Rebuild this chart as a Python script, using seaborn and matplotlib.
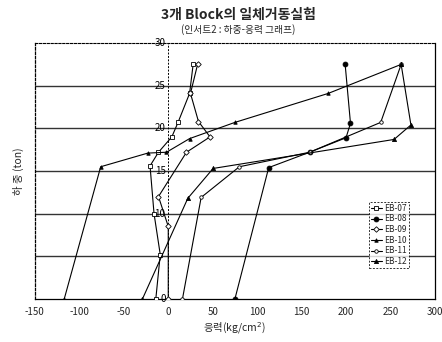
import pandas as pd
import matplotlib
matplotlib.use("Agg")
import matplotlib.pyplot as plt
import seaborn as sns

# -------------------------------
# Data (stress kg/cm2, load ton)
# -------------------------------
series_names = ["EB-07", "EB-08", "EB-09", "EB-10", "EB-11", "EB-12"]

eb07_x = [-14, -9, -16, -20.5, -11, 4, 11, 24, 28]
eb07_y = [0, 5.2, 10, 15.6, 17.2, 19.0, 20.7, 24.1, 27.5]

eb08_x = [75, 113, 159, 200, 205, 199]
eb08_y = [0, 15.4, 17.2, 18.9, 20.6, 27.5]

eb09_x = [0, 0, -11, 20.5, 47, 34, 25, 33]
eb09_y = [0, 8.5, 12, 17.2, 19.0, 20.8, 24.1, 27.5]

eb10_x = [-117, -76, -23, -2, 24, 75, 180, 262]
eb10_y = [0, 15.5, 17.1, 17.2, 18.8, 20.7, 24.1, 27.5]

eb11_x = [16, 37, 80, 159, 239, 262]
eb11_y = [0, 11.9, 15.5, 17.2, 20.7, 27.5]

eb12_x = [-29, 22, 50.5, 254, 273, 262]
eb12_y = [0, 11.8, 15.3, 18.7, 20.4, 27.5]

x_ticks = [-150, -100, -50, 0, 50, 100, 150, 200, 250, 300]
y_ticks = [0, 5, 10, 15, 20, 25, 30]
y_tick_labels = ["0", "", "10", "15", "20", "25", "30"]

all_x = [eb07_x, eb08_x, eb09_x, eb10_x, eb11_x, eb12_x]
all_y = [eb07_y, eb08_y, eb09_y, eb10_y, eb11_y, eb12_y]

# -------------------------------
# Theme
# -------------------------------
sns.set_theme(style="white")
plt.rcParams["font.family"] = ["Noto Sans CJK KR", "DejaVu Sans"]

fig = plt.figure(figsize=(4.42, 3.42), dpi=100)
ax = fig.add_axes([0.079, 0.126, 0.905, 0.748])

markers = {"EB-07": "s", "EB-08": "o", "EB-09": "D",
           "EB-10": "^", "EB-11": "o", "EB-12": "^"}
faces = {"EB-07": "white", "EB-08": "black", "EB-09": "white",
         "EB-10": "black", "EB-11": "white", "EB-12": "black"}
sizes = {"EB-07": 3, "EB-08": 3.5, "EB-09": 2.8,
         "EB-10": 2.5, "EB-11": 2.5, "EB-12": 3}

for name, xs, ys in zip(series_names, all_x, all_y):
    sub = pd.DataFrame({"Stress": xs, "Load": ys})
    sns.lineplot(data=sub, x="Stress", y="Load", sort=False, estimator=None,
                 ax=ax, color="black", lw=0.8, marker=markers[name],
                 markersize=sizes[name], markerfacecolor=faces[name],
                 markeredgecolor="black", markeredgewidth=0.6,
                 label=name, zorder=3)

# grid lines and zero line
for yv in y_ticks[1:-1]:
    ax.axhline(yv, color="#333333", lw=1.0, zorder=1)
ax.axvline(0, color="black", lw=0.7, ls=(0, (2, 1.5)), zorder=1)

ax.set_xlim(-150, 300)
ax.set_ylim(0, 30)
ax.set_xticks(x_ticks)
ax.set_xticklabels([str(v) for v in x_ticks], fontsize=7)
ax.set_yticks([])
ax.tick_params(axis="x", length=0, pad=6)

# y labels drawn along the zero line
for yv, lab in zip(y_ticks, y_tick_labels):
    if lab:
        ax.text(-3, yv, lab, fontsize=7, ha="right", va="center",
                color="black", zorder=4)

for side in ["left", "right", "bottom"]:
    ax.spines[side].set_color("black")
    ax.spines[side].set_linewidth(0.9)
ax.spines["top"].set_color("black")
ax.spines["top"].set_linewidth(0.8)
ax.spines["top"].set_linestyle((0, (2, 1.5)))
ax.spines["left"].set_linestyle((0, (2, 1.5)))

ax.set_xlabel("응력(kg/cm$^2$)", fontsize=7.5, labelpad=2)
ax.set_ylabel("하 중 (ton)", fontsize=7.5, labelpad=8)

fig.text(0.54, 0.955, "3개 Block의 일체거동실험", ha="center", va="center",
         fontsize=10, fontweight="bold")
fig.text(0.54, 0.915, "(인서트2 : 하중-응력 그래프)", ha="center",
         va="center", fontsize=7)

leg = ax.legend(loc="upper left", bbox_to_anchor=(0.835, 0.38), fontsize=6,
                frameon=True, fancybox=False, edgecolor="black",
                handlelength=1.3, handletextpad=0.25, borderpad=0.25,
                labelspacing=0.2, borderaxespad=0)
leg.get_frame().set_linewidth(0.7)
leg.get_frame().set_linestyle((0, (2, 1.5)))
leg.set_zorder(5)

fig.savefig("out.png", dpi=100)
